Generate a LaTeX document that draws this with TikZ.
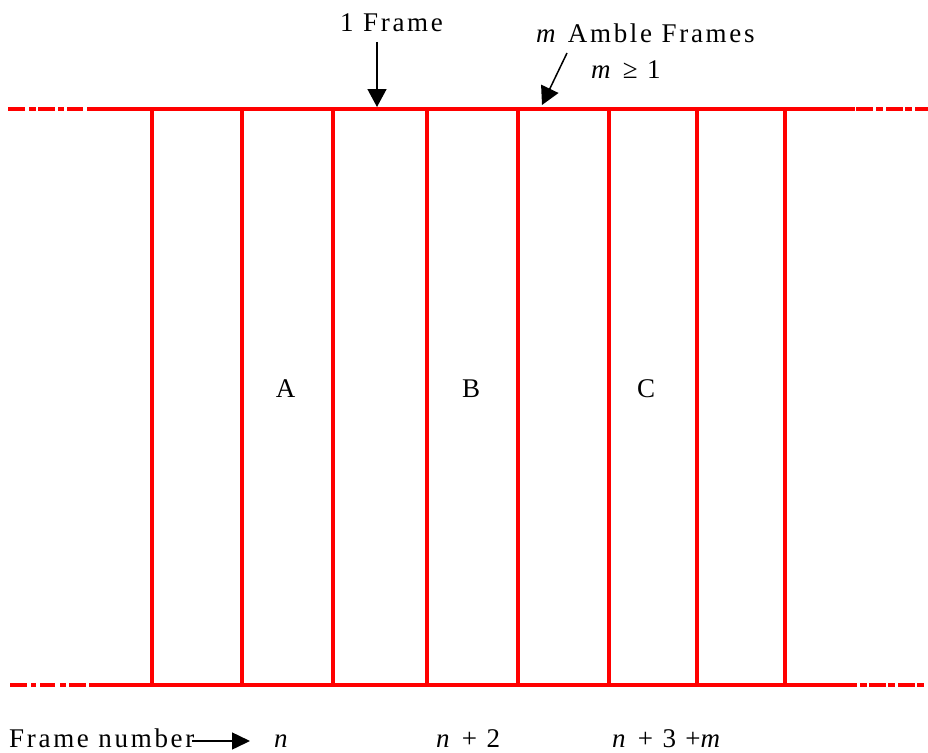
\documentclass[tikz,border=0pt]{standalone}
\usepackage{fontspec}
\setmainfont{Liberation Serif}
\usetikzlibrary{arrows.meta}
\newfontfamily\spaced[LetterSpace=10]{Liberation Serif}
\begin{document}
\begin{tikzpicture}[x=1pt,y=-1pt,
  hline/.style={draw=red,line width=3.8pt},
  vline/.style={draw=red,line width=3.5pt},
  lbl/.style={inner sep=0pt,anchor=base west,font=\fontsize{27}{32}\spaced},
  letter/.style={inner sep=0pt,anchor=base,font=\fontsize{27}{32}\selectfont},
  pointer/.style={draw=black,line width=1.5pt,-{Triangle[length=18pt,width=19pt]}}]
\useasboundingbox (0,0) rectangle (928,752);
% top line
\foreach \a/\b in {8/25,29/36,38/55,58/64,67/83,87/855,856/873,876/883,886/903,905/912,915/928}
  \draw[hline] (\a,109) -- (\b,109);
% bottom line
\foreach \a/\b in {10/27,31/36,40/55,60/66,69/86,89/857,860/867,869/886,888/895,898/915,917/924}
  \draw[hline] (\a,685) -- (\b,685);
% verticals
\foreach \x in {152,242,333,427,518,609,697,785}
  \draw[vline] (\x,109) -- (\x,685);
% letters
\node[letter] (A) at (285.5,397) {A};
\node[letter] (B) at (471,397) {B};
\node[letter] (C) at (646,397) {C};
% top labels
\node[lbl] (oneframe) at (340,32) {1 Frame};
\node[lbl] (amble) at (536,42) {\textit{m} Amble Frames};
\node[lbl] (mge) at (591,78) {\textit{m} ≥ 1};
\coordinate (a1s) at (377,42);
\coordinate (a1e) at (377,107);
\coordinate (a2s) at (567,53);
\coordinate (a2e) at (542,105);
\draw[pointer] (a1s) -- (a1e);
\draw[pointer] (a2s) -- (a2e);
% bottom labels
\node[lbl] (fnum) at (9,747) {Frame number};
\coordinate (a3s) at (192,741);
\coordinate (a3e) at (250,741);
\draw[draw=black,line width=1.5pt,-{Triangle[length=18pt,width=17pt]}] (a3s) -- (a3e);
\node[lbl] (n1) at (274,747) {\textit{n}};
\node[lbl] (n2) at (436,747) {\textit{n} + 2};
\node[lbl] (n3) at (612,747) {\textit{n} + 3 +\textit{m}};
\end{tikzpicture}
\end{document}
